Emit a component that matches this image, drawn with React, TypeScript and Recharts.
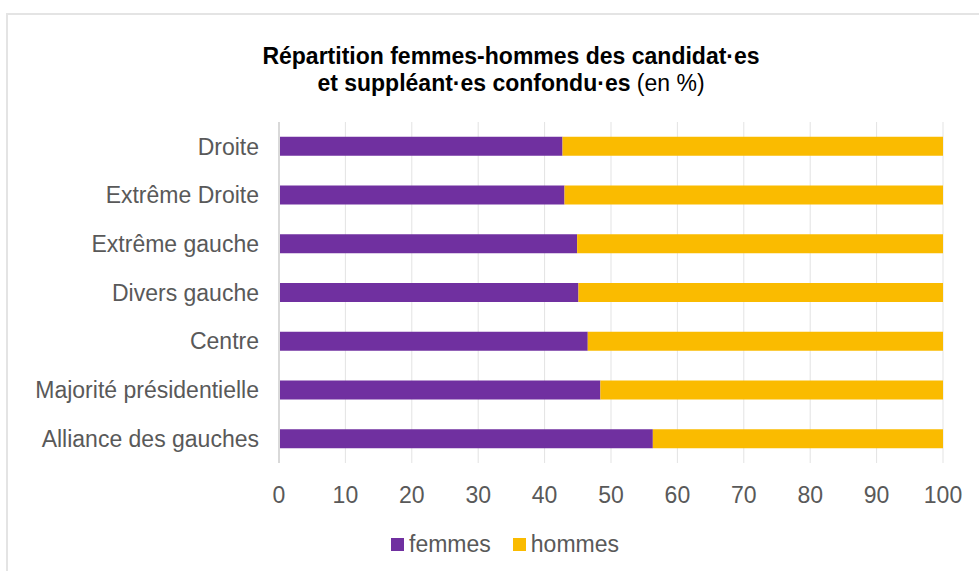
import React from "react";
import { BarChart, Bar, XAxis, YAxis, CartesianGrid, Legend } from "recharts";

const categories = [
  "Droite",
  "Extrême Droite",
  "Extrême gauche",
  "Divers gauche",
  "Centre",
  "Majorité présidentielle",
  "Alliance des gauches",
];
const femmes = [42.7, 43.0, 44.9, 45.1, 46.5, 48.4, 56.3];
const hommes = [57.3, 57.0, 55.1, 54.9, 53.5, 51.6, 43.7];
const xTicks = [0, 10, 20, 30, 40, 50, 60, 70, 80, 90, 100];

const PURPLE = "#7030A0";
const YELLOW = "#FABB00";
const FONT = "'Liberation Sans', Arial, sans-serif";

const data = categories.map((c, i) => ({ name: c, femmes: femmes[i], hommes: hommes[i] }));

const LegendContent = (props: any) => {
  const items = props.payload || [];
  return (
    <div style={{ display: "flex", justifyContent: "center", alignItems: "center", fontFamily: FONT, fontSize: 23, lineHeight: "26px", color: "#595959" }}>
      {items.map((it: any, i: number) => (
        <div key={i} style={{ display: "flex", alignItems: "center", marginRight: i === 0 ? 22 : 0 }}>
          <span style={{ display: "inline-block", width: 13, height: 13, background: it.color, marginRight: 5 }} />
          <span>{it.value}</span>
        </div>
      ))}
    </div>
  );
};

export default function App() {
  return (
    <div style={{ position: "absolute", left: 0, top: 0, width: 979, height: 571, background: "#fff", overflow: "hidden" }}>
      <div style={{ position: "absolute", left: 6, top: 13, width: 973, height: 558, borderTop: "2px solid #e4e4e4", borderLeft: "2px solid #e4e4e4", boxSizing: "border-box" }} />
      <div style={{ position: "absolute", left: 0, top: 43, width: 1022, textAlign: "center", fontFamily: FONT, fontSize: 23, lineHeight: "27px", color: "#000" }}>
        <div style={{ fontWeight: "bold" }}>Répartition femmes-hommes des candidat·es</div>
        <div>
          <span style={{ fontWeight: "bold" }}>et suppléant·es confondu·es</span> (en %)
        </div>
      </div>
      <div style={{ position: "absolute", left: 0, top: 0 }}>
        <BarChart
          width={979}
          height={571}
          data={data}
          layout="vertical"
          margin={{ top: 122, right: 36, bottom: 78, left: 0 }}
          barCategoryGap="30.5%"
        >
          <CartesianGrid horizontal={false} stroke="#e3e3e3" strokeWidth={1} />
          <XAxis
            type="number"
            domain={[0, 100]}
            ticks={xTicks}
            axisLine={false}
            tickLine={false}
            tickSize={0}
            tickMargin={24}
            height={30}
            interval={0}
            tick={{ fill: "#595959", fontSize: 23, fontFamily: FONT }}
          />
          <YAxis
            type="category"
            dataKey="name"
            width={279}
            axisLine={{ stroke: "#d9d9d9", strokeWidth: 2 }}
            tickLine={false}
            tickSize={0}
            tickMargin={20}
            interval={0}
            tick={{ fill: "#595959", fontSize: 23, fontFamily: FONT }}
          />
          <Legend
            verticalAlign="middle"
            layout="horizontal"
            content={<LegendContent />}
            wrapperStyle={{ top: 531, left: 0, width: 1010, height: 26 }}
          />
          <Bar dataKey="femmes" name="femmes" stackId="a" fill={PURPLE} isAnimationActive={false} />
          <Bar dataKey="hommes" name="hommes" stackId="a" fill={YELLOW} isAnimationActive={false} />
        </BarChart>
      </div>
    </div>
  );
}
